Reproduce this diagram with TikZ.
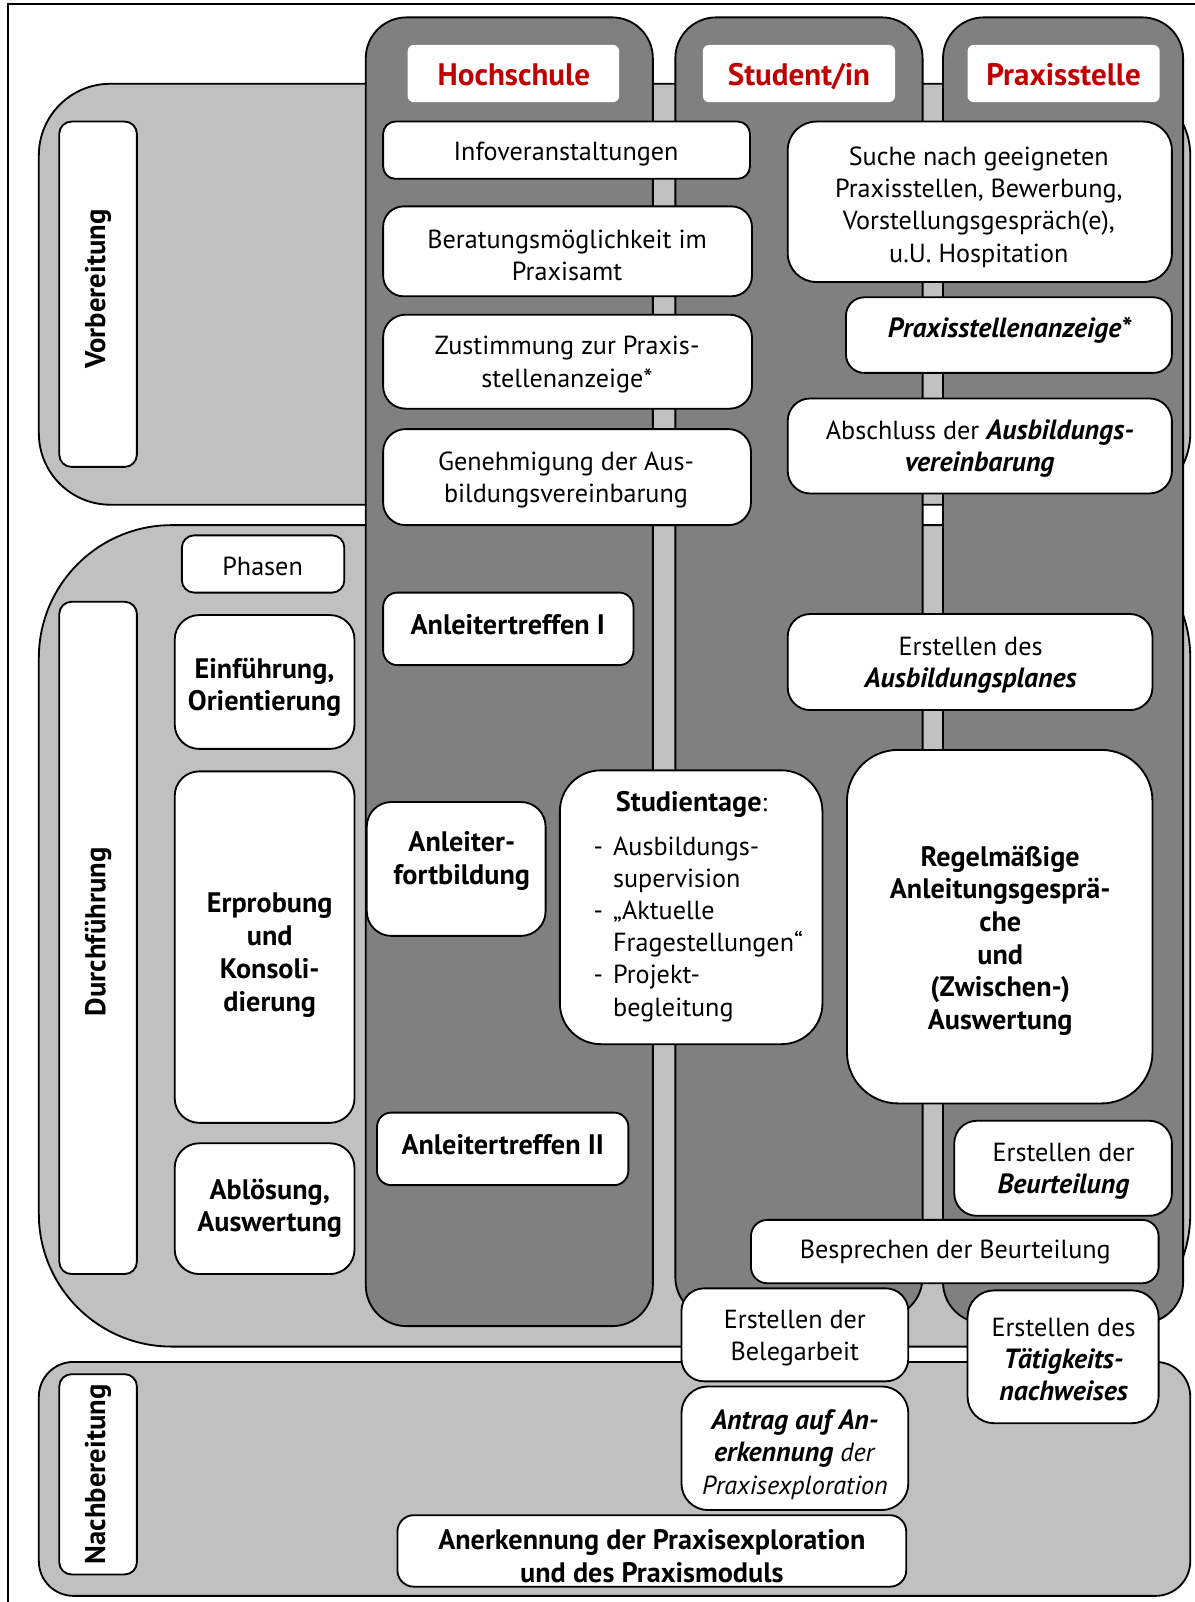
\documentclass[tikz,border=0pt]{standalone}
\usepackage{fontspec}
\setmainfont{PT Sans}
\definecolor{dg}{HTML}{808080}
\definecolor{lg}{HTML}{C0C0C0}
\definecolor{hred}{HTML}{C00000}
\newcommand\boxat[9]{%
  \node[wbox, rounded corners=#6, minimum width={(#4-#2)*0.5pt}, minimum height={(#5-#3)*0.5pt}] (#1) at ({(#2+#4)/2},{(#3+#5)/2}) {};
  \node[txt] (#1-t) at (#7,#8) {#9};}
\newcommand\bboxat[9]{%
  \node[wbox, rounded corners=#6, minimum width={(#4-#2)*0.5pt}, minimum height={(#5-#3)*0.5pt}] (#1) at ({(#2+#4)/2},{(#3+#5)/2}) {};
  \node[btxt] (#1-t) at (#7,#8) {#9};}
\newcommand\BI[1]{{\fontsize{13.6}{16}\selectfont\bfseries\itshape #1}}
\begin{document}
\begin{tikzpicture}[x=0.5pt,y=-0.5pt,
  line width=0.9pt,
  font=\fontsize{12.8}{15.75}\selectfont,
  wbox/.style={draw=black, fill=white, inner sep=0pt},
  txt/.style={align=center, inner sep=0pt, yshift=-1.4pt},
  btxt/.style={txt, font=\fontsize{13.8}{16}\selectfont\bfseries},
  hdr/.style={fill=white, rounded corners=3pt, inner sep=0pt},
  htxt/.style={text=hred, inner sep=0pt, anchor=base, font=\fontsize{15.2}{17}\selectfont\bfseries},
  panel/.style={draw=black, fill=lg},
  col/.style={draw=black, fill=dg},
  side/.style={draw=black, fill=white, rounded corners=6pt, inner sep=0pt, rotate=90, font=\fontsize{14}{16}\selectfont\bfseries}
]
\useasboundingbox (0,0) rectangle (1169,1568);
% frame
\draw (8,1580) -- (8,4) -- (1180,4);
% phase panels
\draw[panel, rounded corners=35pt] (38,82) rectangle (1165,494);
\draw[panel, rounded corners=65pt] (38,514) rectangle (1165,1318);
\draw[panel, rounded corners=17pt] (38,1333) rectangle (1165,1562);
% columns
\draw[col, rounded corners=20pt] (358,17) rectangle (639,1298);
\draw[col, rounded corners=20pt] (661,17) rectangle (903,1290);
\draw[col, rounded corners=20pt] (923,17) rectangle (1158,1295);
% headers
\node[hdr, minimum width=103.5pt, minimum height=28pt] (hs) at (502.5,72) {};
\node[htxt] (hs-t) at (503,84) {Hochschule};
\node[hdr, minimum width=94pt, minimum height=28pt] (st) at (782,72) {};
\node[htxt] (st-t) at (782,84) {Student/in};
\node[hdr, minimum width=94pt, minimum height=28pt] (ps) at (1041,72) {};
\node[htxt] (ps-t) at (1041,84) {Praxisstelle};
% side labels
\node[side, minimum width=169pt, minimum height=38pt] (vorb) at (96,288) {\hspace{5pt}Vorbereitung};
\node[side, minimum width=329pt, minimum height=38pt] (durch) at (96,918) {\hspace{6pt}Durchführung};
\node[side, minimum width=98pt, minimum height=38pt] (nach) at (96,1443) {Nachbereitung};
% Vorbereitung
\boxat{info}{375}{119}{734}{175}{6pt}{554}{148}{Infoveranstaltungen}
\boxat{berat}{375}{202}{736}{290}{10pt}{555}{247}{Beratungsmöglichkeit im\\Praxisamt}
\boxat{zust}{375}{308}{736}{400}{11pt}{555}{354}{Zustimmung zur Praxis-\\stellenanzeige*}
\boxat{genehm}{375}{420}{735}{514}{11pt}{554}{467}{Genehmigung der Aus-\\bildungsvereinbarung}
\boxat{suche}{771}{119}{1147}{276}{14pt}{958}{200}{Suche nach geeigneten\\Praxisstellen, Bewerbung,\\Vorstellungsgespräch(e),\\u.U. Hospitation}
\boxat{anz}{828}{291}{1147}{365}{9pt}{988}{320}{\BI{Praxisstellenanzeige*}}
\boxat{abschl}{771}{390}{1147}{483}{11pt}{959}{436}{Abschluss der \BI{Ausbildungs-}\\\BI{vereinbarung}}
% Durchfuehrung
\boxat{phasen}{178}{524}{337}{580}{6pt}{257}{552}{Phasen}
\bboxat{einf}{171}{602}{347}{733}{12pt}{259}{670}{Einführung,\\Orientierung}
\bboxat{erprob}{171}{755}{347}{1099}{12pt}{264}{932}{Erprobung\\und\\Konsoli-\\dierung}
\bboxat{abl}{171}{1119}{347}{1247}{12pt}{264}{1180}{Ablösung,\\Auswertung}
\bboxat{at1}{375}{580}{620}{651}{7pt}{497}{609}{Anleitertreffen I}
\bboxat{fortb}{359}{785}{534}{916}{12pt}{452}{840}{Anleiter-\\fortbildung}
\bboxat{at2}{369}{1089}{615}{1160}{7pt}{492}{1118}{Anleitertreffen II}
\node[wbox, rounded corners=20pt, minimum width=128.5pt, minimum height=134pt] (stud) at (676.5,888) {};
\node[txt] (stud-t) at (677,785) {{\fontsize{13.8}{16}\selectfont\bfseries Studientage}:};
\node[anchor=base west, inner sep=0pt] (stud-l) at (580,837) {\begin{tabular}[t]{@{}l@{\hspace{5pt}}l@{}}-&Ausbildungs-\\&supervision\\-&„Aktuelle\\&Fragestellungen“\\-&Projekt-\\&begleitung\end{tabular}};
\boxat{aplan}{771}{601}{1128}{695}{11pt}{950}{648}{Erstellen des\\\BI{Ausbildungsplanes}}
\bboxat{regel}{829}{734}{1128}{1080}{25pt}{979}{918}{Regelmäßige\\Anleitungsgesprä-\\che\\und\\(Zwischen-)\\Auswertung}
\boxat{beurt}{934}{1097}{1147}{1190}{11pt}{1041}{1144}{Erstellen der\\\BI{Beurteilung}}
\boxat{bespr}{735}{1194}{1134}{1256}{8pt}{935}{1223}{Besprechen der Beurteilung}
\boxat{beleg}{667}{1261}{889}{1352}{11pt}{778}{1307}{Erstellen der\\Belegarbeit}
\boxat{taet}{947}{1263}{1134}{1393}{13pt}{1041}{1328}{Erstellen des\\\BI{Tätigkeits-}\\\BI{nachweises}}
% Nachbereitung
\boxat{antrag}{667}{1357}{889}{1478}{13pt}{778}{1421}{\BI{Antrag auf An-}\\\BI{erkennung} \textit{der}\\\textit{Praxisexploration}}
\bboxat{anerk}{389}{1483}{887}{1553}{8pt}{638}{1520}{Anerkennung der Praxisexploration\\und des Praxismoduls}
\end{tikzpicture}
\end{document}
